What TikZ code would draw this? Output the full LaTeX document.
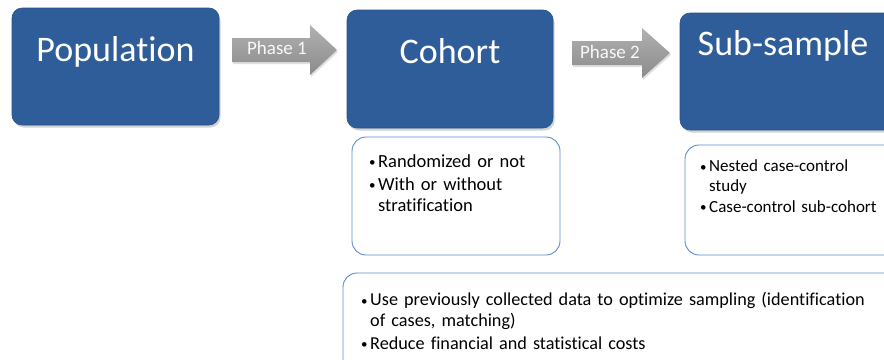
\documentclass[tikz,border=0pt]{standalone}
\usepackage{fontspec}
\setmainfont[Ligatures=NoCommon]{Carlito}
\usetikzlibrary{shadows}
\definecolor{boxblue}{HTML}{2E5D99}
\definecolor{lineblue}{HTML}{5B8BCB}
\definecolor{arrgray}{HTML}{A3A3A3}
\newcommand{\bul}[1]{\par\noindent\makebox[10pt][l]{\hspace{1pt}\raisebox{0.5pt}{\fontsize{13}{13}\selectfont\textbullet}}\parbox[t]{\dimexpr\linewidth-10pt\relax}{\raggedright #1}}
\tikzset{
  bigbox/.style={fill=boxblue, draw=boxblue!90!black, line width=0.6pt, rounded corners=10pt,
    drop shadow={opacity=0.35, shadow xshift=1.5pt, shadow yshift=-2.5pt}},
  listbox/.style={draw=lineblue, line width=0.9pt, rounded corners=14pt, fill=white},
  bigtext/.style={text=white, font=\fontsize{36}{40}\selectfont, inner sep=0pt, anchor=base},
  phasetext/.style={text=white!95!gray, font=\fontsize{19}{22}\selectfont, inner sep=0pt},
  blockarrow/.style={top color=arrgray!85, bottom color=arrgray!85!black, draw=none,
    drop shadow={opacity=0.25, shadow xshift=1pt, shadow yshift=-2pt}},
  listtext/.style={font=\fontsize{18.5}{21}\selectfont, align=left, inner sep=0pt, anchor=north west},
}
\begin{document}
\begin{tikzpicture}[x=1pt,y=-1pt]
\useasboundingbox (0,0) rectangle (884,359);
\clip (0,0) rectangle (884,359);
% big boxes
\path[bigbox] (12,8) rectangle (219,125);
\path[bigbox] (347,10) rectangle (553,128);
\path[bigbox] (680,13) rectangle (910,130);
\node[bigtext] (pop) at (115.5,61) {Population};
\node[bigtext] (coh) at (450,63) {Cohort};
\node[bigtext] (sub) at (783,55) {Sub-sample};
% block arrows
\path[blockarrow] (232,38) -- (310,38) -- (310,25) -- (337,50) -- (310,75) -- (310,62) -- (232,62) -- cycle;
\path[blockarrow] (572,41) -- (642,41) -- (642,28) -- (670,53) -- (642,78) -- (642,65) -- (572,65) -- cycle;
\node[phasetext] (ph1) at (277,48) {Phase 1};
\node[phasetext] (ph2) at (610,52) {Phase 2};
% list boxes
\path[listbox] (352,137) rectangle (560,255);
\path[listbox] (685,145) rectangle (910,255);
\path[listbox] (343,273) rectangle (910,380);
\node[listtext, text width=180pt] (l1) at (368,146) {%
\bul{Randomized or not}\par\vspace{2pt}%
\bul{With or without\\stratification}};
\node[listtext, text width=250pt, font=\fontsize{17}{19.5}\selectfont] (l2) at (699,152) {%
\bul{Nested case-control\\study}\par\vspace{5.5pt}%
\bul{Case-control sub-cohort}};
\node[listtext, text width=530pt, font=\fontsize{18.2}{20.5}\selectfont] (l3) at (360,285) {%
\bul{Use previously collected data to optimize sampling (identification\\of cases, matching)}\par\vspace{6.5pt}%
\bul{Reduce financial and statistical costs}};
\end{tikzpicture}
\end{document}
